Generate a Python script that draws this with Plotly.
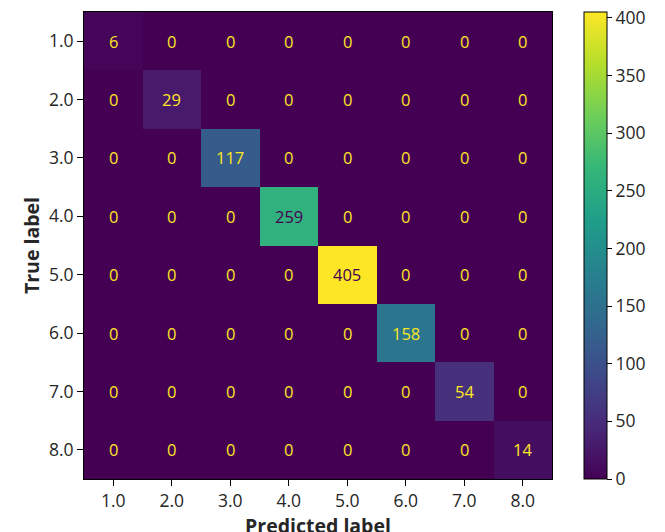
import plotly.graph_objects as go

labels = ["1.0", "2.0", "3.0", "4.0", "5.0", "6.0", "7.0", "8.0"]
diag_counts = [6, 29, 117, 259, 405, 158, 54, 14]
matrix = [[diag_counts[i] if i == j else 0 for j in range(8)] for i in range(8)]
cbar_ticks = [0, 50, 100, 150, 200, 250, 300, 350, 400]

idx = list(range(len(labels)))
zmax = max(diag_counts)
thresh = zmax / 2.0
font_family = "Open Sans"
tick_font = dict(family=font_family, size=17.5, color="#262626")

fig = go.Figure()
fig.add_trace(go.Heatmap(
    z=matrix, x=idx, y=idx, colorscale="Viridis", zmin=0, zmax=zmax,
    colorbar=dict(
        x=1.068, xanchor="left", y=0.5, yanchor="middle", len=1.0, lenmode="fraction",
        thickness=23, outlinecolor="black", outlinewidth=1, xpad=0, ypad=0,
        tickvals=cbar_ticks, ticklabeloverflow="allow",
        ticks="outside", ticklen=5, tickcolor="black",
        tickfont=tick_font,
    ),
    hoverinfo="skip",
))

annotations = []
for i, row in enumerate(matrix):
    for j, v in enumerate(row):
        annotations.append(dict(
            x=j, y=i, xref="x", yref="y", text=str(v), showarrow=False,
            font=dict(family=font_family, size=16.5,
                      color="#440154" if v > thresh else "#fde725"),
        ))
fig.update_layout(annotations=annotations)

fig.update_xaxes(
    range=[-0.5, 7.5], tickvals=idx, ticktext=labels, automargin=False,
    showline=True, linecolor="black", linewidth=1, mirror=True, showgrid=False, zeroline=False,
    ticks="outside", ticklen=6, tickcolor="black",
    tickfont=tick_font,
    title=dict(text="<b>Predicted label</b>", font=dict(family=font_family, size=19.5, color="#262626"), standoff=0),
)
fig.update_yaxes(
    range=[7.5, -0.5], tickvals=idx, ticktext=labels, automargin=False,
    showline=True, linecolor="black", linewidth=1, mirror=True, showgrid=False, zeroline=False,
    ticks="outside", ticklen=6, tickcolor="black",
    tickfont=tick_font,
    title=dict(text="<b>True label</b>", font=dict(family=font_family, size=19.5, color="#262626"), standoff=4),
)
fig.update_layout(
    width=665, height=532,
    margin=dict(l=76, r=121, t=4, b=61),
    plot_bgcolor="white", paper_bgcolor="white",
)
fig.write_html("out.html")
